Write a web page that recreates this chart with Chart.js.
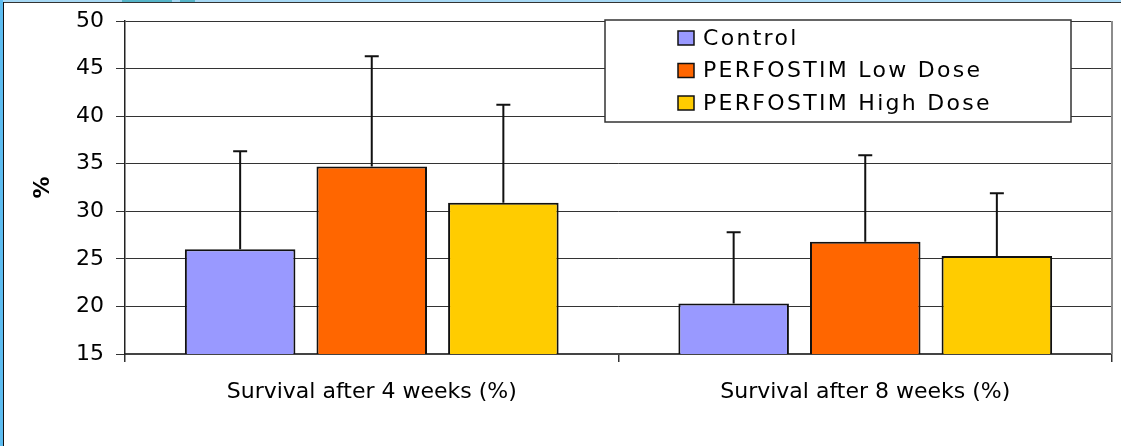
<!DOCTYPE html>
<html>
<head>
<meta charset="utf-8">
<script src="https://cdn.jsdelivr.net/npm/chart.js@4"></script>
<style>
  html, body { margin: 0; padding: 0; background: #fff; }
  #wrap { position: relative; width: 1121px; height: 446px; overflow: hidden; }
  #wrap canvas { position: absolute; left: 0; top: 0; }
  .edge { position: absolute; }
</style>
</head>
<body>
<div id="wrap">
  <canvas id="survivalChart"></canvas>
  <div class="edge" style="left:0;top:0;width:1121px;height:2px;background:#a6d8f4"></div>
  <div class="edge" style="left:0;top:2px;width:1121px;height:1px;background:#333"></div>
  <div class="edge" style="left:122px;top:0;width:50px;height:2px;background:#55b4c8"></div>
  <div class="edge" style="left:180px;top:0;width:15px;height:2px;background:#55b4c8"></div>
  <div class="edge" style="left:0;top:0;width:3px;height:446px;background:#5cbcf0"></div>
  <div class="edge" style="left:3px;top:2px;width:1px;height:444px;background:#111"></div>
</div>
<script>
// data
const categories = ['Survival after 4 weeks (%)', 'Survival after 8 weeks (%)'];
const seriesNames = ['Control', 'PERFOSTIM Low Dose', 'PERFOSTIM High Dose'];
const controlValues = [26.0, 20.3];
const lowDoseValues = [34.7, 26.8];
const highDoseValues = [30.9, 25.3];
// upper error bar length (only the + side is drawn)
const controlErrors = [10.3, 7.5];
const lowDoseErrors = [11.6, 9.1];
const highDoseErrors = [10.3, 6.6];
const yTicks = [15, 20, 25, 30, 35, 40, 45, 50];

const seriesColors = ['#9999ff', '#ff6600', '#ffcc00'];
const FONT = 'DejaVu Sans';

// simple +error bars
const errorBars = {
    id: 'errorBars',
    afterDatasetsDraw(chart) {
        const ctx = chart.ctx;
        const yScale = chart.scales.y;
        ctx.save();
        ctx.strokeStyle = '#111';
        ctx.lineWidth = 2;
        chart.data.datasets.forEach((ds, i) => {
            chart.getDatasetMeta(i).data.forEach((bar, j) => {
                const top = yScale.getPixelForValue(ds.data[j] + ds.errors[j]);
                ctx.beginPath();
                ctx.moveTo(bar.x, bar.y);
                ctx.lineTo(bar.x, top);
                ctx.moveTo(bar.x - 7, top);
                ctx.lineTo(bar.x + 7, top);
                ctx.stroke();
            });
        });
        ctx.restore();
    }
};

// right border of plot area + boxed legend drawn over it
const frameAndLegend = {
    id: 'frameAndLegend',
    afterDraw(chart) {
        const ctx = chart.ctx;
        const area = chart.chartArea;
        ctx.save();
        ctx.strokeStyle = '#8c8c8c';
        ctx.lineWidth = 2;
        ctx.beginPath();
        ctx.moveTo(area.right, area.top);
        ctx.lineTo(area.right, area.bottom);
        ctx.stroke();

        // legend box
        const lx = 605, ly = 20, lw = 466, lh = 102;
        ctx.fillStyle = '#fff';
        ctx.fillRect(lx, ly, lw, lh);
        ctx.strokeStyle = '#333';
        ctx.lineWidth = 1.5;
        ctx.strokeRect(lx, ly, lw, lh);

        ctx.font = '22px "' + FONT + '"';
        ctx.textBaseline = 'middle';
        ctx.textAlign = 'left';
        if ('letterSpacing' in ctx) ctx.letterSpacing = '2.3px';
        chart.data.datasets.forEach((ds, i) => {
            const cy = 38 + i * 32.5;
            ctx.fillStyle = ds.backgroundColor;
            ctx.fillRect(678, cy - 7, 16, 14);
            ctx.strokeStyle = '#111';
            ctx.lineWidth = 1.5;
            ctx.strokeRect(678, cy - 7, 16, 14);
            ctx.fillStyle = '#000';
            ctx.fillText(ds.label, 703, cy + 1);
        });
        ctx.restore();
    }
};

const dataSets = [controlValues, lowDoseValues, highDoseValues];
const errorSets = [controlErrors, lowDoseErrors, highDoseErrors];

new Chart(document.getElementById('survivalChart'), {
    type: 'bar',
    data: {
        labels: categories,
        datasets: seriesNames.map((name, i) => ({
            label: name,
            data: dataSets[i],
            errors: errorSets[i],
            backgroundColor: seriesColors[i],
            borderColor: '#111',
            borderWidth: 2,
            borderSkipped: false,
            categoryPercentage: 0.8,
            barPercentage: 0.84
        }))
    },
    options: {
        responsive: true,
        maintainAspectRatio: false,
        animation: false,
        layout: { padding: { left: 0, top: 21, right: 9, bottom: 0 } },
        plugins: {
            legend: { display: false },
            tooltip: { enabled: false }
        },
        scales: {
            x: {
                offset: true,
                afterFit(scale) { scale.height = 92; },
                grid: {
                    offset: true,
                    drawOnChartArea: false,
                    tickLength: 8,
                    color: '#333',
                    lineWidth: 1.5
                },
                border: { color: '#444', width: 2 },
                ticks: {
                    color: '#000',
                    padding: 17,
                    font: { family: FONT, size: 22 }
                }
            },
            y: {
                min: 15,
                max: 50,
                afterFit(scale) {
                    scale.width = 125;
                    // keep label overhang from pushing the plot down
                    scale.paddingTop = 0;
                    scale.paddingBottom = 0;
                },
                afterBuildTicks(scale) {
                    scale.ticks = yTicks.map(v => ({ value: v }));
                },
                grid: { color: '#333', lineWidth: 1, tickLength: 9 },
                border: { color: '#222', width: 1.5 },
                ticks: {
                    color: '#000',
                    padding: 12,
                    font: { family: FONT, size: 22 }
                },
                title: {
                    display: true,
                    text: '%',
                    color: '#000',
                    padding: { top: 30, bottom: 0 },
                    font: { family: FONT, size: 22, weight: 'bold' }
                }
            }
        }
    },
    plugins: [errorBars, frameAndLegend]
});
</script>
</body>
</html>
